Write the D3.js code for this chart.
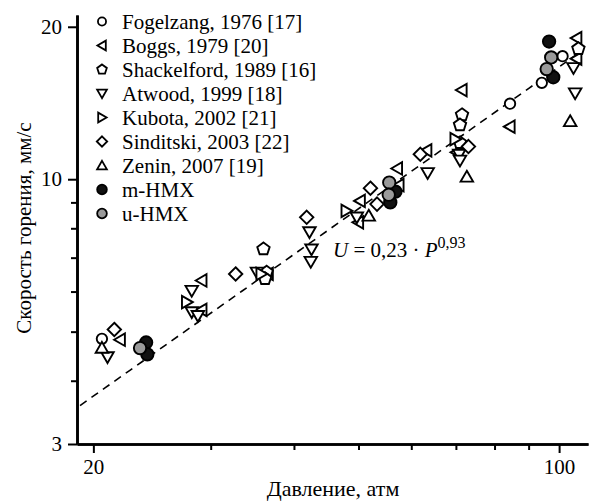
<!DOCTYPE html>
<html>
<head>
<meta charset="utf-8">
<script src="https://cdn.jsdelivr.net/npm/d3@7"></script>
<style>
  body { margin: 0; background: #fff; }
  svg { display: block; }
  text { font-family: "Liberation Serif", "Times New Roman", serif; fill: #000; }
</style>
</head>
<body>
<svg id="chart" width="589" height="502"></svg>
<script>
// Burning rate (mm/s) vs pressure (atm)
const fogelzangP = [20.6, 84.4, 94.2, 101.2];
const fogelzangU = [4.84, 14.1, 15.5, 17.5];

const boggsP = [21.95, 29.1, 29.1, 36.6, 50.3, 50.0, 57.2, 57.5, 63.3, 71.5, 70.2, 84.4, 106.3, 106.3];
const boggsU = [4.82, 6.31, 5.52, 6.50, 9.06, 8.22, 10.5, 9.73, 11.4, 15.0, 11.3, 12.7, 19.0, 17.3];

const shackelfordP = [36.0, 36.4, 36.2, 71.5, 71.0, 71.0, 106.9];
const shackelfordU = [7.28, 6.55, 6.36, 13.4, 12.8, 11.8, 18.1];

const atwoodP = [21.0, 28.1, 28.1, 28.7, 35.2, 42.2, 42.5, 42.4, 49.7, 63.5, 70.8, 71.0, 105.1, 105.7];
const atwoodU = [4.46, 6.03, 5.47, 5.38, 6.55, 7.87, 7.28, 6.88, 8.42, 10.3, 11.2, 10.9, 16.6, 14.8];

const kubotaP = [27.6, 35.7, 47.9, 69.8];
const kubotaU = [5.72, 6.50, 8.66, 12.0];

const sinditskiP = [21.5, 32.7, 41.8, 52.1, 53.3, 61.9, 73.1];
const sinditskiU = [5.05, 6.50, 8.41, 9.60, 8.93, 11.2, 11.6];

const zeninP = [20.6, 51.8, 72.7, 103.9];
const zeninU = [4.64, 8.46, 10.1, 13.0];

const mhmxP = [24.0, 24.1, 56.8, 55.8, 96.6, 98.0];
const mhmxU = [4.76, 4.51, 9.45, 9.00, 18.7, 15.9];

const uhmxP = [23.5, 55.6, 55.5, 97.3, 95.8];
const uhmxU = [4.64, 9.85, 9.32, 17.4, 16.5];

const legendLabels = [
  "Fogelzang, 1976 [17]", "Boggs, 1979 [20]", "Shackelford, 1989 [16]",
  "Atwood, 1999 [18]", "Kubota, 2002 [21]", "Sinditski, 2003 [22]",
  "Zenin, 2007 [19]", "m-HMX", "u-HMX"
];

// Fit U = 0.23 * P^0.93
const fitA = 0.23, fitB = 0.93;
const fitRange = [19.1, 107];

const xMajorTicks = [20, 100];
const xMinorTicks = [30, 40, 50, 60, 70, 80, 90];
const yMajorTicks = [3, 10, 20];
const yMinorTicks = [4, 5, 6, 7, 8, 9];

const series = [
  { P: fogelzangP, U: fogelzangU, shape: "circle", fill: "#fff" },
  { P: boggsP, U: boggsU, shape: "triLeft", fill: "#fff" },
  { P: shackelfordP, U: shackelfordU, shape: "pentagon", fill: "#fff" },
  { P: atwoodP, U: atwoodU, shape: "triDown", fill: "#fff" },
  { P: kubotaP, U: kubotaU, shape: "triRight", fill: "#fff" },
  { P: sinditskiP, U: sinditskiU, shape: "diamond", fill: "#fff" },
  { P: zeninP, U: zeninU, shape: "triUp", fill: "#fff" },
  { P: mhmxP, U: mhmxU, shape: "dot", fill: "#111" },
  { P: uhmxP, U: uhmxU, shape: "dot", fill: "#9a9a9a" }
];

const svg = d3.select("#chart");

const x = d3.scaleLog().domain([18.9, 110.5]).range([77, 588]);
const y = d3.scaleLog().domain([3, 21.1]).range([444, 15]);

// Polygon marker helper
function polygon(cx, cy, r, startDeg, n) {
  const p = d3.path();
  for (let i = 0; i < n; i++) {
    const a = (startDeg + i * 360 / n) * Math.PI / 180;
    const px = cx + r * Math.cos(a), py = cy + r * Math.sin(a);
    if (i === 0) p.moveTo(px, py); else p.lineTo(px, py);
  }
  p.closePath();
  return p.toString();
}

function markerPath(shape, cx, cy, k) {
  const p = d3.path();
  switch (shape) {
    case "circle": p.arc(cx, cy, 5.2 * k, 0, 2 * Math.PI); return p.toString();
    case "dot": p.arc(cx, cy, 6.2 * k, 0, 2 * Math.PI); return p.toString();
    case "triUp": return polygon(cx, cy + 1, 7.2 * k, -90, 3);
    case "triDown": return polygon(cx, cy - 1, 7.2 * k, 90, 3);
    case "triLeft": return polygon(cx + 1, cy, 7.2 * k, 180, 3);
    case "triRight": return polygon(cx - 1, cy, 7.2 * k, 0, 3);
    case "diamond": return polygon(cx, cy, 6.7 * k, -90, 4);
    case "pentagon": return polygon(cx, cy, 6.5 * k, -90, 5);
  }
}

// Axes
function styleAxis(g) {
  g.select(".domain").attr("stroke", "#000").attr("stroke-width", 2.6);
  g.selectAll(".tick line").attr("stroke", "#000").attr("stroke-width", 2);
  g.selectAll(".tick text").style("font-family", "'Liberation Serif', serif").style("font-size", "21px").attr("fill", "#000");
}

svg.append("g")
  .attr("transform", "translate(0,444)")
  .call(d3.axisBottom(x).tickValues(xMinorTicks).tickSize(6).tickSizeOuter(0).tickFormat(""))
  .call(styleAxis);

svg.append("g")
  .attr("transform", "translate(0,444)")
  .call(d3.axisBottom(x).tickValues(xMajorTicks).tickSize(9).tickSizeOuter(0).tickPadding(6).tickFormat(d3.format("d")))
  .call(styleAxis);

svg.append("g")
  .attr("transform", "translate(77,0)")
  .call(d3.axisLeft(y).tickValues(yMinorTicks).tickSize(6).tickSizeOuter(0).tickFormat(""))
  .call(styleAxis);

svg.append("g")
  .attr("transform", "translate(77,0)")
  .call(d3.axisLeft(y).tickValues(yMajorTicks).tickSize(9).tickSizeOuter(0).tickPadding(6).tickFormat(d3.format("d")))
  .call(styleAxis);

// Axis titles
svg.append("text")
  .attr("x", 333).attr("y", 496)
  .attr("text-anchor", "middle")
  .style("font-size", "22px")
  .text("Давление, атм");

svg.append("text")
  .attr("transform", "translate(31,228) rotate(-90)")
  .attr("text-anchor", "middle")
  .style("font-size", "21px")
  .text("Скорость горения, мм/с");

// Fit line
const fitPts = d3.range(0, 41).map(i => {
  const P = fitRange[0] * Math.pow(fitRange[1] / fitRange[0], i / 40);
  return [P, fitA * Math.pow(P, fitB)];
});
svg.append("path")
  .datum(fitPts)
  .attr("d", d3.line().x(d => x(d[0])).y(d => y(d[1])))
  .attr("fill", "none")
  .attr("stroke", "#000")
  .attr("stroke-width", 1.6)
  .attr("stroke-dasharray", "8,6");

// Fit formula
const formula = svg.append("text")
  .attr("x", 333).attr("y", 257)
  .style("font-size", "21px");
formula.append("tspan").style("font-style", "italic").text("U");
formula.append("tspan").text(" = 0,23 · ");
formula.append("tspan").style("font-style", "italic").text("P");
formula.append("tspan").attr("dy", -9).style("font-size", "16px").text("0,93");

// Data markers
series.forEach(s => {
  svg.append("g")
    .selectAll("path")
    .data(s.P.map((p, i) => [p, s.U[i]]))
    .join("path")
    .attr("d", d => markerPath(s.shape, x(d[0]), y(d[1]), 1))
    .attr("fill", s.fill)
    .attr("stroke", "#000")
    .attr("stroke-width", 1.9);
});

// Legend
const legend = svg.append("g");
series.forEach((s, i) => {
  const cy = 21.5 + i * 24;
  legend.append("path")
    .attr("d", markerPath(s.shape, 102, cy, 0.78))
    .attr("fill", s.fill)
    .attr("stroke", "#000")
    .attr("stroke-width", 1.8);
  legend.append("text")
    .attr("x", 122).attr("y", cy + 7)
    .style("font-size", "21px")
    .text(legendLabels[i]);
});
</script>
</body>
</html>
